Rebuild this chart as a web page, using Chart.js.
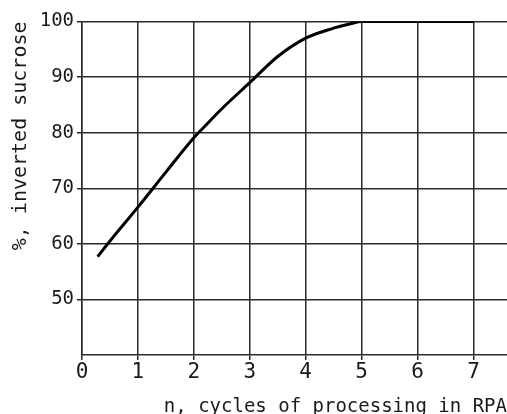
<!DOCTYPE html>
<html>
<head>
<meta charset="utf-8">
<script src="https://cdn.jsdelivr.net/npm/chart.js"></script>
<style>
  html, body { margin: 0; padding: 0; background: #fff; }
  #wrap { width: 507px; height: 414px; position: relative; }
</style>
</head>
<body>
<div id="wrap"><canvas id="chart"></canvas></div>
<script>
// cycles of processing (n) and inverted sucrose (%)
const cycles = [0.28, 0.5, 1, 1.5, 2, 2.2, 2.5, 3, 3.5, 4, 4.5, 4.8, 5, 6, 7]
const inverted = [57.7, 60.5, 66.6, 72.9, 79.1, 81.2, 84.3, 89.0, 93.7, 97.0, 98.8, 99.6, 100, 100, 100]
const xTicks = [0, 1, 2, 3, 4, 5, 6, 7]
const yTicks = [50, 60, 70, 80, 90, 100]

const font = "'DejaVu Sans Mono', 'Liberation Mono', monospace"
const ink = "#1a1a1a"

const points = cycles.map((x, i) => ({ x: x, y: inverted[i] }))

new Chart(document.getElementById("chart"), {
  type: "line",
  data: {
    datasets: [
      {
        data: points,
        borderColor: "#000",
        borderWidth: 3,
        pointRadius: 0,
        cubicInterpolationMode: "monotone",
        fill: false,
      },
    ],
  },
  options: {
    responsive: true,
    maintainAspectRatio: false,
    animation: false,
    layout: { padding: { top: 21.5, left: 8.7, right: 0, bottom: -4 } },
    plugins: { legend: { display: false }, tooltip: { enabled: false } },
    scales: {
      x: {
        type: "linear",
        min: 0,
        max: 7.6,
        afterBuildTicks: (scale) => {
          scale.ticks = xTicks.map((v) => ({ value: v }))
        },
        ticks: {
          color: ink,
          padding: 0,
          font: { family: font, size: 21 },
          maxRotation: 0,
        },
        grid: { color: "#2a2a2a", lineWidth: 1.5, tickLength: 5 },
        border: { color: "#2a2a2a", width: 1.5 },
        title: {
          display: true,
          text: "n, cycles of processing in RPA",
          align: "end",
          color: ink,
          font: { family: font, size: 19 },
          padding: { top: 10, bottom: 0 },
        },
      },
      y: {
        type: "linear",
        min: 40,
        max: 100,
        afterBuildTicks: (scale) => {
          scale.ticks = yTicks.map((v) => ({ value: v }))
        },
        ticks: {
          color: ink,
          padding: 3,
          font: { family: font, size: 19 },
        },
        grid: { color: "#2a2a2a", lineWidth: 1.5, tickLength: 5 },
        border: { color: "#2a2a2a", width: 1.5 },
        title: {
          display: true,
          text: "%, inverted sucrose",
          align: "end",
          color: ink,
          font: { family: font, size: 20 },
          padding: { top: 0, bottom: 4 },
        },
      },
    },
  },
})
</script>
</body>
</html>
